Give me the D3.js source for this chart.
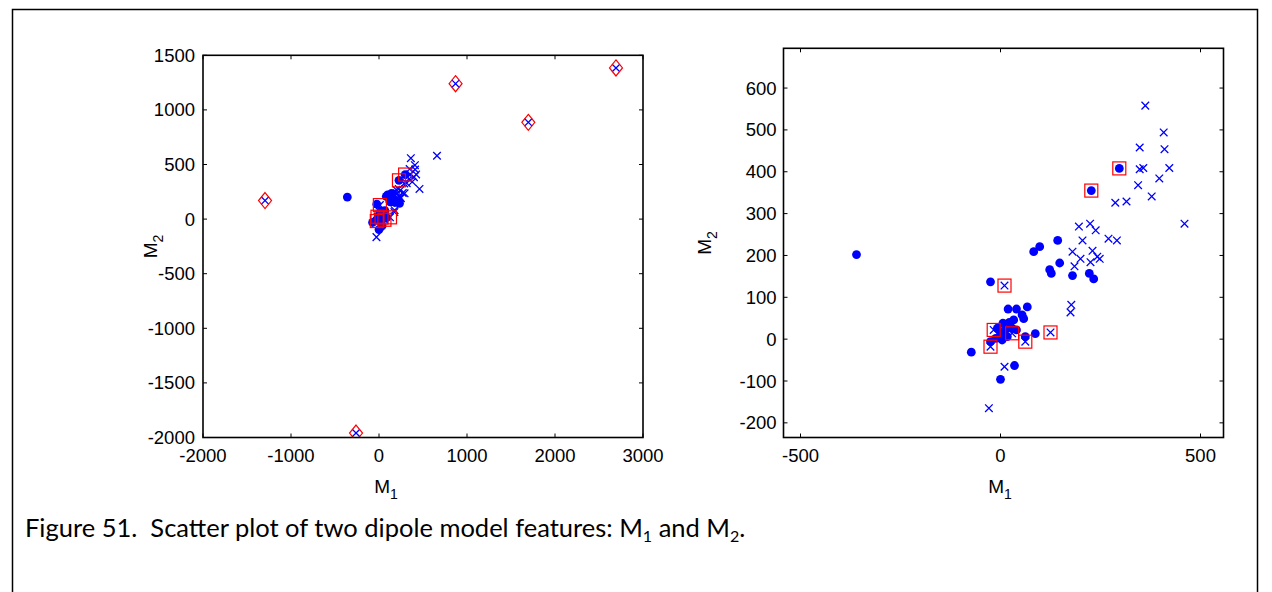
<!DOCTYPE html>
<html>
<head>
<meta charset="utf-8">
<script src="https://cdn.jsdelivr.net/npm/d3@7"></script>
<style>
  body { margin: 0; background: #fff; }
  svg { display: block; }
</style>
</head>
<body>
<div id="chart"></div>
<script>
// class 1 (filled dots), [M1, M2]
const dotPoints = [
    [297, 408], [227, 355], [143, 236], [98, 221], [83, 209], [148, 182],
    [123, 166], [127, 157], [180, 152], [222, 157], [233, 144], [-25, 137],
    [-360, 202], [19, 72], [40, 72], [67, 77], [54, 58], [58, 49], [6, 38],
    [22, 40], [33, 46], [-8, 26], [12, 22], [29, 26], [40, 22], [0, 10],
    [17, 6], [-12, 2], [-25, -6], [4, -2], [62, 6], [87, 13], [-73, -31],
    [35, -63], [0, -96]
];
// class 2 (crosses), [M1, M2]
const crossPoints = [
    [362, 558], [408, 494], [348, 458], [410, 454], [348, 406], [357, 409],
    [422, 409], [397, 384], [344, 368], [378, 341], [287, 326], [315, 329],
    [460, 276], [196, 269], [224, 276], [238, 260], [205, 236], [270, 240],
    [291, 236], [180, 209], [230, 211], [200, 192], [242, 197], [248, 192],
    [225, 184], [185, 174], [10, 128], [177, 82], [175, 64], [-17, 22],
    [29, 14], [-25, -18], [62, -6], [125, 16], [10, -66], [-29, -165],
    [659, 580], [-1295, 170], [870, 1240], [1697, 886], [2693, 1384], [-261, -1959]
];
// highlighted with red squares
const squarePoints = [
    [297, 408], [227, 355], [10, 128], [-17, 22], [29, 14], [-25, -18], [62, -6], [125, 16]
];
// highlighted with red diamonds (outliers)
const diamondPoints = [
    [-1295, 170], [870, 1240], [1697, 886], [2693, 1384], [-261, -1959]
];

const leftXTicks = [-2000, -1000, 0, 1000, 2000, 3000];
const leftYTicks = [-2000, -1500, -1000, -500, 0, 500, 1000, 1500];
const rightXTicks = [-500, 0, 500];
const rightYTicks = [-200, -100, 0, 100, 200, 300, 400, 500, 600];

const captionText = "Figure 51.  Scatter plot of two dipole model features: ";

const width = 1272;
const height = 592;
const blue = "#0000ff";
const red = "#ff0000";
const tickFont = "'Liberation Sans', Arial, sans-serif";

const svg = d3.select("#chart").append("svg")
    .attr("width", width)
    .attr("height", height);

// outer frame
svg.append("rect")
    .attr("x", 12.5)
    .attr("y", 9.5)
    .attr("width", 1245)
    .attr("height", 600)
    .attr("fill", "none")
    .attr("stroke", "#000")
    .attr("stroke-width", 1.5);

function scatterPanel(box, xDomain, yDomain, xTicks, yTicks, opts) {
    const x = d3.scaleLinear().domain(xDomain).range([box.left, box.right]);
    const y = d3.scaleLinear().domain(yDomain).range([box.bottom, box.top]);
    const tickLen = 4;

    const g = svg.append("g");

    const clipId = "clip" + opts.id;
    g.append("clipPath")
        .attr("id", clipId)
        .append("rect")
        .attr("x", box.left)
        .attr("y", box.top)
        .attr("width", box.right - box.left)
        .attr("height", box.bottom - box.top);

    const plot = g.append("g").attr("clip-path", "url(#" + clipId + ")");

    // dots
    plot.selectAll(".dot")
        .data(dotPoints)
        .enter().append("circle")
        .attr("class", "dot")
        .attr("cx", d => x(d[0]))
        .attr("cy", d => y(d[1]))
        .attr("r", 4.4)
        .attr("fill", blue);

    // crosses
    plot.selectAll(".cross")
        .data(crossPoints)
        .enter().append("path")
        .attr("class", "cross")
        .attr("transform", d => "translate(" + x(d[0]) + "," + y(d[1]) + ")")
        .attr("d", "M-3.8,-3.8L3.8,3.8M-3.8,3.8L3.8,-3.8")
        .attr("fill", "none")
        .attr("stroke", blue)
        .attr("stroke-width", 1.3);

    // squares
    plot.selectAll(".sq")
        .data(squarePoints)
        .enter().append("rect")
        .attr("class", "sq")
        .attr("x", d => x(d[0]) - 6.5)
        .attr("y", d => y(d[1]) - 6.5)
        .attr("width", 13)
        .attr("height", 13)
        .attr("fill", "none")
        .attr("stroke", red)
        .attr("stroke-width", 1.2);

    // diamonds
    plot.selectAll(".dia")
        .data(diamondPoints)
        .enter().append("path")
        .attr("class", "dia")
        .attr("transform", d => "translate(" + x(d[0]) + "," + y(d[1]) + ")")
        .attr("d", "M0,-8L6.5,0L0,8L-6.5,0Z")
        .attr("fill", "none")
        .attr("stroke", red)
        .attr("stroke-width", 1.2);

    // inward ticks on all four sides
    const ticks = g.append("g").attr("stroke", "#000").attr("stroke-width", 1);
    xTicks.forEach(function (t) {
        ticks.append("line").attr("x1", x(t)).attr("x2", x(t))
            .attr("y1", box.bottom).attr("y2", box.bottom - tickLen);
        ticks.append("line").attr("x1", x(t)).attr("x2", x(t))
            .attr("y1", box.top).attr("y2", box.top + tickLen);
    });
    yTicks.forEach(function (t) {
        ticks.append("line").attr("x1", box.left).attr("x2", box.left + tickLen)
            .attr("y1", y(t)).attr("y2", y(t));
        ticks.append("line").attr("x1", box.right).attr("x2", box.right - tickLen)
            .attr("y1", y(t)).attr("y2", y(t));
    });

    // box
    g.append("rect")
        .attr("x", box.left)
        .attr("y", box.top)
        .attr("width", box.right - box.left)
        .attr("height", box.bottom - box.top)
        .attr("fill", "none")
        .attr("stroke", "#000")
        .attr("stroke-width", 1.6);

    // tick labels
    g.selectAll(".xlab")
        .data(xTicks)
        .enter().append("text")
        .attr("class", "xlab")
        .attr("x", d => x(d))
        .attr("y", box.bottom + 24)
        .attr("text-anchor", "middle")
        .style("font-family", tickFont)
        .style("font-size", "18.5px")
        .text(d => d);

    g.selectAll(".ylab")
        .data(yTicks)
        .enter().append("text")
        .attr("class", "ylab")
        .attr("x", box.left - opts.yLabGap)
        .attr("y", d => y(d) + 6.5)
        .attr("text-anchor", "end")
        .style("font-family", tickFont)
        .style("font-size", "18.5px")
        .text(d => d);

    // axis titles
    const xt = g.append("text")
        .attr("x", opts.xTitleX)
        .attr("y", box.bottom + 55)
        .attr("text-anchor", "middle")
        .style("font-family", tickFont)
        .style("font-size", "19px");
    xt.append("tspan").text("M");
    xt.append("tspan").attr("dy", 6).style("font-size", "14px").text("1");

    const yt = g.append("text")
        .attr("transform", "translate(" + opts.yTitleX + "," + ((box.top + box.bottom) / 2) + ") rotate(-90)")
        .attr("text-anchor", "middle")
        .style("font-family", tickFont)
        .style("font-size", "19px");
    yt.append("tspan").text("M");
    yt.append("tspan").attr("dy", 6).style("font-size", "14px").text("2");
}

scatterPanel({left: 203, right: 643, top: 55.3, bottom: 437.5},
    [-2000, 3000], [-2000, 1500], leftXTicks, leftYTicks,
    {id: "L", yLabGap: 8, xTitleX: 386, yTitleX: 157});

scatterPanel({left: 783.5, right: 1223.5, top: 48.3, bottom: 437.5},
    [-542.5, 557.5], [-235, 695], rightXTicks, rightYTicks,
    {id: "R", yLabGap: 7, xTitleX: 1000, yTitleX: 711});

// caption
const cap = svg.append("text")
    .attr("x", 25)
    .attr("y", 537)
    .style("white-space", "pre")
    .style("font-family", "Lato, 'Open Sans', sans-serif")
    .style("font-size", "25.5px");
cap.append("tspan").text(captionText + "M");
cap.append("tspan").attr("dy", 5).style("font-size", "16px").text("1");
cap.append("tspan").attr("dy", -5).text(" and M");
cap.append("tspan").attr("dy", 5).style("font-size", "16px").text("2");
cap.append("tspan").attr("dy", -5).text(".");
</script>
</body>
</html>
